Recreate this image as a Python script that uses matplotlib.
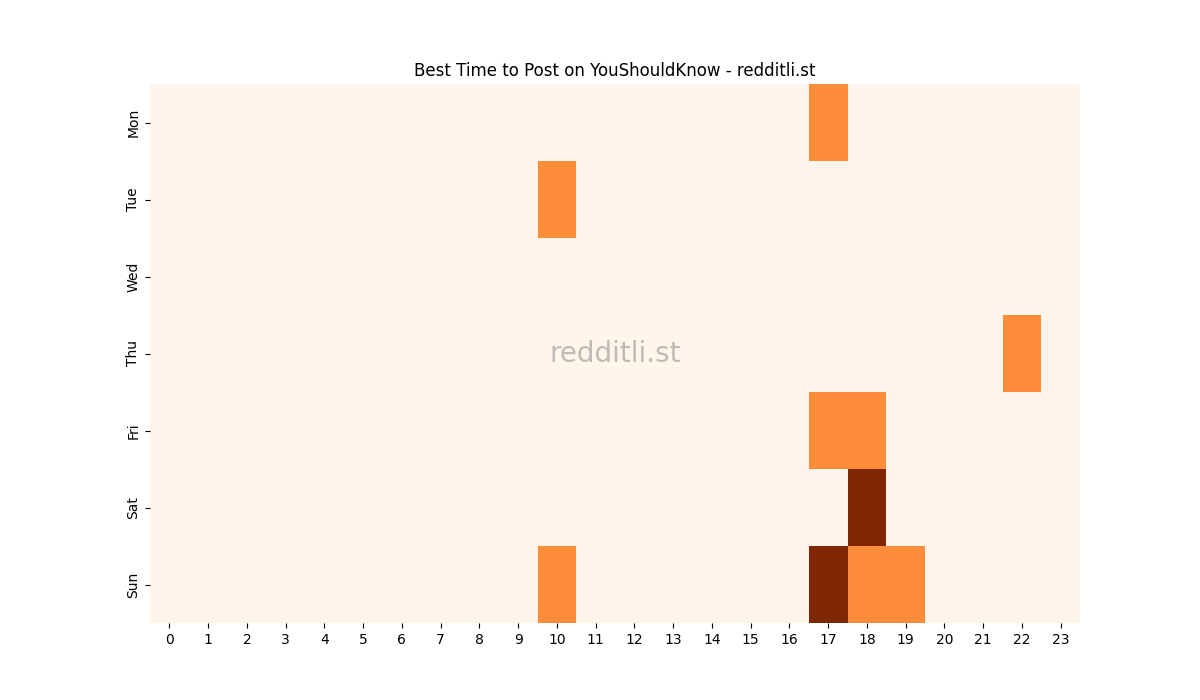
import matplotlib
matplotlib.use("Agg")
import matplotlib.pyplot as plt
import seaborn as sns
import numpy as np

days = ["Mon", "Tue", "Wed", "Thu", "Fri", "Sat", "Sun"]
hours = list(range(24))
# (day, hour, value)
cells_mon = [(17, 1)]
cells_tue = [(10, 1)]
cells_wed = []
cells_thu = [(22, 1)]
cells_fri = [(17, 1), (18, 1)]
cells_sat = [(18, 2)]
cells_sun = [(10, 1), (17, 2), (18, 1), (19, 1)]
all_cells = [cells_mon, cells_tue, cells_wed, cells_thu, cells_fri, cells_sat, cells_sun]

data = np.zeros((len(days), len(hours)))
for i, row in enumerate(all_cells):
    for h, v in row:
        data[i, h] = v

fig, ax = plt.subplots(figsize=(12, 7), dpi=100)
sns.heatmap(data, cmap="Oranges", cbar=False, ax=ax, xticklabels=hours, yticklabels=days)
ax.set_title("Best Time to Post on YouShouldKnow - redditli.st")
ax.tick_params(axis="x", rotation=0)
ax.tick_params(axis="y", rotation=90)
ax.text(0.5, 0.5, "redditli.st", transform=ax.transAxes, ha="center", va="center",
        fontsize=20, color="grey", alpha=0.5)
fig.savefig("out.png")
